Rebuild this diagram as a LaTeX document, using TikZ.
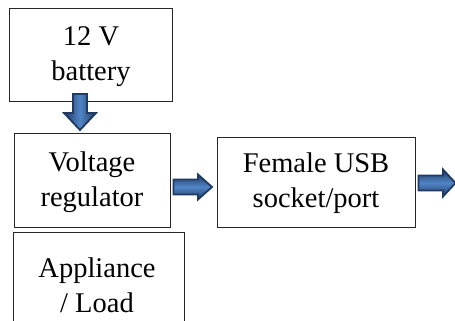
\documentclass[tikz,border=0pt]{standalone}
\usepackage{fontspec}
\setmainfont{Liberation Serif}
\usetikzlibrary{calc}
\begin{document}
\begin{tikzpicture}[x=1pt,y=-1pt,
  box/.style={draw=black!85, line width=0.9pt, inner sep=0pt},
  txt/.style={align=center, inner sep=0pt, font=\fontsize{28.5}{35}\selectfont},
  barrow/.style={draw=arrowdark, line width=1.8pt, line join=miter},
]
\definecolor{arrowdark}{HTML}{203A63}
\definecolor{arrowlight}{HTML}{5185C6}
\clip (0,0) rectangle (455,321);
\fill[white] (0,0) rectangle (455,321);
% boxes
\node[box, minimum width=163pt, minimum height=93pt] (bat) at (90.5,54.5) {};
\node[box, minimum width=156pt, minimum height=94pt] (reg) at (92,180) {};
\node[box, minimum width=198pt, minimum height=90pt] (usb) at (316,182) {};
\node[box, minimum width=171pt, minimum height=100pt] (load) at (98.5,282) {};
% texts (base = baseline of last line)
\node[txt, anchor=base] (tbat) at (91,81) {12 V\\battery};
\node[txt, anchor=base] (treg) at (92,206) {Voltage\\regulator};
\node[txt, anchor=base] (tusb) at (316,207) {Female USB\\socket/port};
\node[txt, anchor=base] (tload) at (97,312) {Appliance\\/ Load};
% block arrows
\coordinate (d0) at (80,94);
\coordinate (r0) at (173.5,187);
\coordinate (s0) at (418.5,183);
\shade[barrow, left color=arrowdark, right color=arrowdark, middle color=arrowlight]
  ($(d0)+(-7,0)$) -- ++(14,0) -- ++(0,19) -- ++(9,0) -- ($(d0)+(0,36)$) -- ($(d0)+(-16,19)$) -- ++(9,0) -- cycle;
\shade[barrow, top color=arrowdark, bottom color=arrowdark, middle color=arrowlight]
  ($(r0)+(0,-7.5)$) -- ++(24.5,0) -- ++(0,-5) -- ($(r0)+(38.5,0)$) -- ($(r0)+(24.5,12.5)$) -- ++(0,-5) -- ($(r0)+(0,7.5)$) -- cycle;
\shade[barrow, top color=arrowdark, bottom color=arrowdark, middle color=arrowlight]
  ($(s0)+(0,-7.5)$) -- ++(24.5,0) -- ++(0,-6) -- ($(s0)+(37,0)$) -- ($(s0)+(24.5,13.5)$) -- ++(0,-6) -- ($(s0)+(0,7.5)$) -- cycle;
\end{tikzpicture}
\end{document}
